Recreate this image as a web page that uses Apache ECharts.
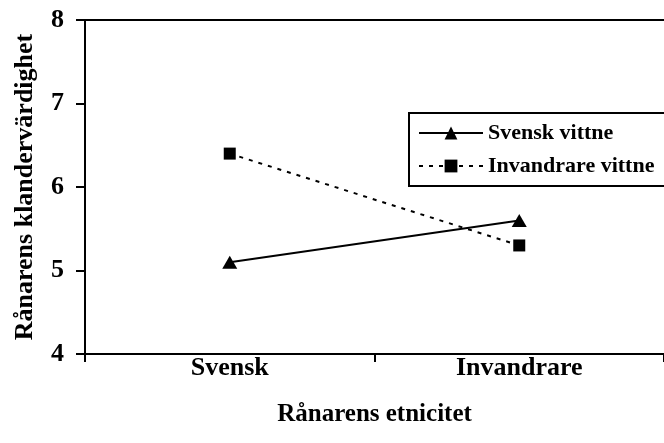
<!DOCTYPE html>
<html>
<head>
<meta charset="utf-8">
<script src="https://cdn.jsdelivr.net/npm/echarts@6/dist/echarts.min.js"></script>
<style>
  html, body { margin: 0; padding: 0; background: #fff; }
  #chart { width: 664px; height: 443px; }
</style>
</head>
<body>
<div id="chart"></div>
<script>
// data
const categories = ['Svensk', 'Invandrare'];
const svenskVittne = [5.1, 5.6];
const invandrareVittne = [6.4, 5.3];
const seriesNames = ['Svensk vittne', 'Invandrare vittne'];

const font = 'Liberation Serif';
const chart = echarts.init(document.getElementById('chart'));

const option = {
    backgroundColor: '#fff',
    animation: false,
    grid: { left: 85, top: 20, right: 0, bottom: 89, outerBoundsMode: 'none', containLabel: false },
    legend: {
        orient: 'vertical',
        left: 409,
        top: 113,
        padding: [9, 30, 9, 9],
        itemGap: 11,
        itemWidth: 64,
        itemHeight: 16,
        borderColor: '#000',
        borderWidth: 2,
        backgroundColor: '#fff',
        textStyle: { fontFamily: font, fontWeight: 'bold', fontSize: 22, color: '#000' },
        data: seriesNames
    },
    xAxis: [{
        type: 'category',
        data: categories,
        boundaryGap: true,
        axisLine: { lineStyle: { color: '#000', width: 2 } },
        axisTick: { show: true, length: 8, alignWithLabel: false, lineStyle: { color: '#000', width: 2 } },
        axisLabel: { fontFamily: font, fontWeight: 'bold', fontSize: 26, color: '#000', margin: 1 },
        name: 'Rånarens etnicitet',
        nameLocation: 'middle',
        nameGap: 48,
        nameTextStyle: { fontFamily: font, fontWeight: 'bold', fontSize: 25, color: '#000' }
    }, {
        // top border of the plot box
        type: 'category',
        position: 'top',
        data: categories,
        axisLine: { lineStyle: { color: '#000', width: 2 } },
        axisTick: { show: false },
        axisLabel: { show: false }
    }],
    yAxis: {
        type: 'value',
        min: 4,
        max: 8,
        interval: 1,
        axisLine: { show: true, lineStyle: { color: '#000', width: 2 } },
        axisTick: { show: true, length: 9, lineStyle: { color: '#000', width: 2 } },
        splitLine: { show: false },
        axisLabel: { fontFamily: font, fontWeight: 'bold', fontSize: 26, color: '#000', margin: 21 },
        name: 'Rånarens klandervärdighet',
        nameLocation: 'middle',
        nameGap: 47,
        nameTextStyle: { fontFamily: font, fontWeight: 'bold', fontSize: 26, color: '#000' }
    },
    series: [{
        name: seriesNames[0],
        type: 'line',
        data: svenskVittne,
        symbol: 'triangle',
        symbolSize: [15, 13],
        lineStyle: { color: '#000', width: 2 },
        itemStyle: { color: '#000' }
    }, {
        name: seriesNames[1],
        type: 'line',
        data: invandrareVittne,
        symbol: 'rect',
        symbolSize: 12,
        lineStyle: { color: '#000', width: 2, type: [4, 6] },
        itemStyle: { color: '#000' }
    }]
};

chart.setOption(option);
</script>
</body>
</html>
